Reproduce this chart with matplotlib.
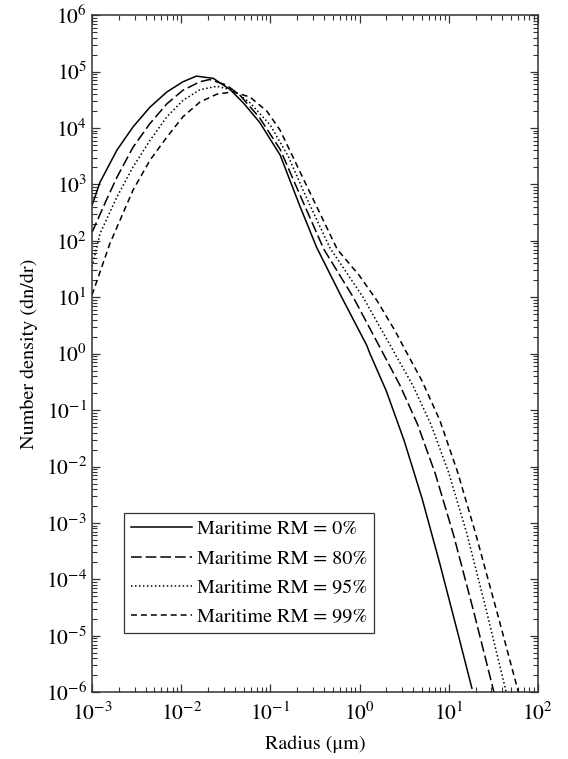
import numpy as np
import matplotlib
matplotlib.use("Agg")
import matplotlib.pyplot as plt
from matplotlib.ticker import LogLocator, NullFormatter

# values, as (log10 radius, log10 dn/dr)
rm0_logx = [-3.0, -2.91, -2.72, -2.54, -2.35, -2.16, -1.98, -1.83, -1.64, -1.45, -1.30, -1.12,
            -0.89, -0.67, -0.48, -0.20, 0.08, 0.117, 0.30, 0.50, 0.70, 0.90, 1.10, 1.26]
rm0_logy = [2.63, 3.04, 3.61, 4.02, 4.37, 4.64, 4.82, 4.92, 4.88, 4.68, 4.44, 4.10,
            3.52, 2.62, 1.88, 1.0, 0.15, 0.0, -0.66, -1.54, -2.56, -3.72, -4.94, -5.93]

rm80_logx = [-3.0, -2.84, -2.72, -2.54, -2.35, -2.16, -1.98, -1.79, -1.68, -1.49, -1.34, -1.12,
             -0.89, -0.67, -0.40, -0.07, 0.266, 0.45, 0.65, 0.85, 1.05, 1.28, 1.52]
rm80_logy = [2.15, 2.72, 3.13, 3.66, 4.08, 4.43, 4.67, 4.82, 4.86, 4.76, 4.58, 4.18,
             3.62, 2.82, 1.85, 1.0, 0.0, -0.55, -1.25, -2.13, -3.19, -4.57, -6.08]

rm95_logx = [-3.0, -2.91, -2.72, -2.54, -2.35, -2.16, -1.98, -1.79, -1.60, -1.42, -1.23, -1.0,
             -0.8, -0.6, -0.33, 0.04, 0.397, 0.6, 0.8, 1.0, 1.2, 1.4, 1.645]
rm95_logy = [1.54, 2.13, 2.78, 3.31, 3.78, 4.20, 4.49, 4.68, 4.74, 4.67, 4.45, 4.05,
             3.50, 2.78, 1.87, 1.0, 0.0, -0.57, -1.25, -2.11, -3.17, -4.41, -6.0]

rm99_logx = [-3.0, -2.80, -2.54, -2.35, -2.16, -1.98, -1.79, -1.60, -1.42, -1.23, -1.04,
             -0.89, -0.6, -0.25, 0.0, 0.2, 0.4, 0.528, 0.7, 0.9, 1.1, 1.3, 1.55, 1.79]
rm99_logy = [1.04, 1.95, 2.90, 3.43, 3.84, 4.20, 4.46, 4.60, 4.64, 4.55, 4.30,
             3.96, 3.0, 1.85, 1.38, 0.93, 0.40, 0.02, -0.48, -1.18, -2.10, -3.18, -4.63, -6.05]

labels = ["Maritime RM = 0%", "Maritime RM = 80%", "Maritime RM = 95%", "Maritime RM = 99%"]
series = [(rm0_logx, rm0_logy), (rm80_logx, rm80_logy), (rm95_logx, rm95_logy), (rm99_logx, rm99_logy)]
styles = ["-", (0, (7, 2.6)), (0, (1, 1.6)), (0, (3.9, 2.6))]

plt.rcParams["font.family"] = ["STIXGeneral", "DejaVu Serif"]
plt.rcParams["mathtext.fontset"] = "stix"

fig = plt.figure(figsize=(5.68, 7.59), dpi=100)
ax = fig.add_axes([0.162, 0.088, 0.785, 0.892])

for (lx, ly), lab, ls in zip(series, labels, styles):
    ax.plot(10 ** np.array(lx), 10 ** np.array(ly), color="black", lw=1.1, ls=ls, label=lab)

ax.set_xscale("log")
ax.set_yscale("log")
ax.set_xlim(1e-3, 1e2)
ax.set_ylim(1e-6, 1e6)

for axis in (ax.xaxis, ax.yaxis):
    axis.set_major_locator(LogLocator(base=10, numticks=20))
    axis.set_minor_locator(LogLocator(base=10, subs=np.arange(2, 10), numticks=20))
    axis.set_minor_formatter(NullFormatter())

ax.tick_params(which="both", direction="in", top=True, right=True, labelsize=15.5, color="#333333")
ax.tick_params(which="major", length=6, width=0.9)
ax.tick_params(which="minor", length=3.5, width=0.8)
ax.tick_params(axis="x", which="major", pad=7.5)
ax.tick_params(axis="y", which="major", pad=3.5)
for sp in ax.spines.values():
    sp.set_linewidth(1.1)
    sp.set_color("#333333")

ax.set_xlabel("Radius (μm)", fontsize=14.5, labelpad=7)
ax.set_ylabel("Number density (dn/dr)", fontsize=14.5, labelpad=6)

leg = ax.legend(loc="lower left", bbox_to_anchor=(0.072, 0.0875), fontsize=14.5, frameon=True,
                fancybox=False, edgecolor="black", handlelength=3.0, handletextpad=0.25,
                labelspacing=0.55, borderpad=0.35, borderaxespad=0)
leg.get_frame().set_linewidth(0.9)

fig.savefig("out.png", dpi=100)
